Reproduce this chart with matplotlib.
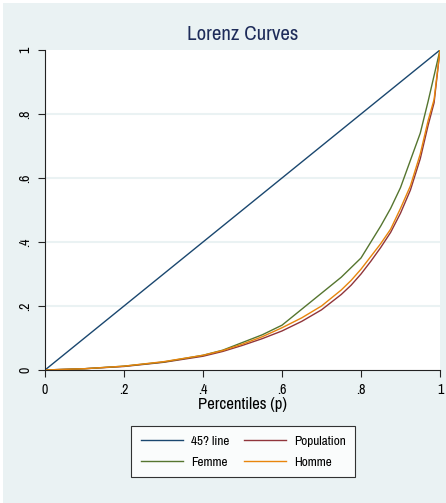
import matplotlib
matplotlib.use("Agg")
import matplotlib.pyplot as plt
from matplotlib.patches import Rectangle

plt.rcParams['font.family'] = ['Archivo Narrow', 'Liberation Sans', 'DejaVu Sans']

# percentiles and Lorenz ordinates
p = [0, .1, .2, .3, .4, .45, .5, .55, .6, .65, .7, .75, .775, .8, .825, .85, .875, .9, .925, .95, .97, .985, 1]
population = [0, .004, .011, .024, .043, .058, .077, .098, .122, .152, .188, .236, .265, .300, .340,
              .383, .430, .490, .562, .660, .765, .835, 1]
femme = [0, .004, .012, .025, .046, .062, .086, .110, .140, .190, .240, .290, .320, .350, .400,
         .450, .505, .570, .655, .740, .840, .920, 1]
homme = [0, .004, .012, .026, .046, .061, .081, .104, .132, .163, .200, .250, .280, .315, .355,
         .395, .440, .505, .575, .675, .780, .845, 1]
diag = [0, 1]

bg = '#eaf2f3'
navy = '#1a476f'
maroon = '#90353b'
green = '#55752f'
orange = '#e8850c'

fig = plt.figure(figsize=(4.46, 5.03), dpi=100, facecolor='white')
fig.patches.append(Rectangle((3 / 446, 0), 1, 1 - 3 / 503, transform=fig.transFigure,
                             facecolor=bg, edgecolor='none', zorder=-10))
ax = fig.add_axes([45 / 446, 1 - 370 / 503, 395 / 446, 320 / 503])
ax.set_facecolor('white')

lw = 1.0
ax.plot(diag, diag, color=navy, lw=lw, label='45? line')
ax.plot(p, population, color=maroon, lw=lw, label='Population')
ax.plot(p, femme, color=green, lw=lw, label='Femme')
ax.plot(p, homme, color=orange, lw=lw, label='Homme')

ax.set_xlim(0, 1)
ax.set_ylim(0, 1)
ticks = [0, .2, .4, .6, .8, 1]
labels = ['0', '.2', '.4', '.6', '.8', '1']
ax.set_xticks(ticks)
ax.set_xticklabels(labels, fontsize=10)
ax.set_yticks(ticks)
ax.set_yticklabels(labels, fontsize=10, rotation=90, va='center')
for t in [.2, .4, .6, .8]:
    ax.axhline(t, color=bg, lw=1.5, zorder=0)
ax.tick_params(direction='out', length=5, width=0.8, color='#222222', pad=4)
for s in ['top', 'right']:
    ax.spines[s].set_visible(False)
for s in ['left', 'bottom']:
    ax.spines[s].set_color('#222222')
    ax.spines[s].set_linewidth(0.8)

ax.set_title('Lorenz Curves', fontsize=15, color='#1e2c5a', pad=7)
ax.set_xlabel('Percentiles (p)', fontsize=12, labelpad=0)

h, l = ax.get_legend_handles_labels()
order = [0, 2, 1, 3]  # fill row by row like the reference
leg = fig.legend([h[i] for i in order], [l[i] for i in order], ncol=2,
                 loc='center', bbox_to_anchor=(243 / 446, 1 - 451.5 / 503),
                 fontsize=9.5, frameon=True, fancybox=False, handlelength=3.2,
                 columnspacing=1.1, handletextpad=0.6, labelspacing=0.75,
                 borderpad=0.7)
leg.get_frame().set_edgecolor('black')
leg.get_frame().set_linewidth(0.8)

fig.savefig('out.png', dpi=100, facecolor=fig.get_facecolor())
